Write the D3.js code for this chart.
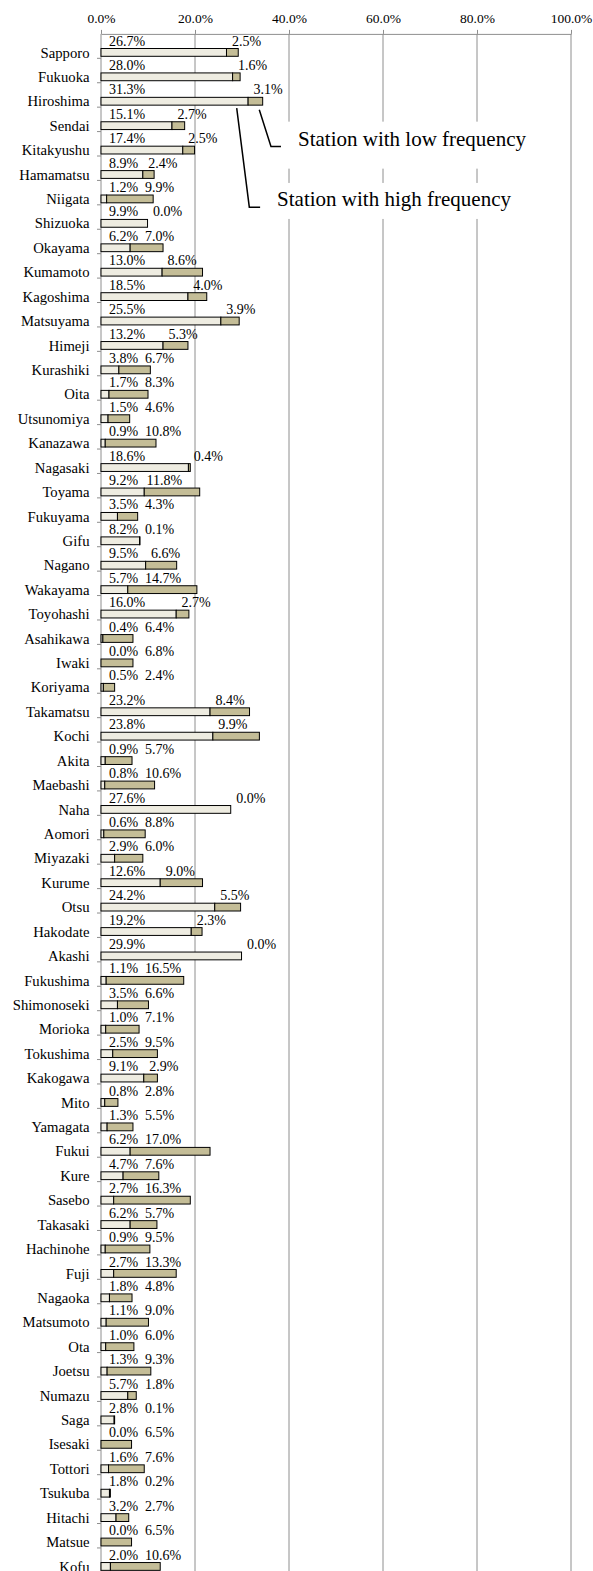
<!DOCTYPE html>
<html lang="en">
<head>
<meta charset="utf-8">
<script src="https://d3js.org/d3.v7.min.js"></script>
<style>
  body { margin: 0; background: #fff; }
</style>
</head>
<body>
<div id="chart"></div>
<script>
// stations, share of high / low frequency (%)
const cities = ["Sapporo","Fukuoka","Hiroshima","Sendai","Kitakyushu","Hamamatsu","Niigata","Shizuoka",
  "Okayama","Kumamoto","Kagoshima","Matsuyama","Himeji","Kurashiki","Oita","Utsunomiya","Kanazawa",
  "Nagasaki","Toyama","Fukuyama","Gifu","Nagano","Wakayama","Toyohashi","Asahikawa","Iwaki","Koriyama",
  "Takamatsu","Kochi","Akita","Maebashi","Naha","Aomori","Miyazaki","Kurume","Otsu","Hakodate","Akashi",
  "Fukushima","Shimonoseki","Morioka","Tokushima","Kakogawa","Mito","Yamagata","Fukui","Kure","Sasebo",
  "Takasaki","Hachinohe","Fuji","Nagaoka","Matsumoto","Ota","Joetsu","Numazu","Saga","Isesaki","Tottori",
  "Tsukuba","Hitachi","Matsue","Kofu"];
const highFreq = [26.7,28.0,31.3,15.1,17.4,8.9,1.2,9.9,6.2,13.0,18.5,25.5,13.2,3.8,1.7,1.5,0.9,18.6,9.2,3.5,
  8.2,9.5,5.7,16.0,0.4,0.0,0.5,23.2,23.8,0.9,0.8,27.6,0.6,2.9,12.6,24.2,19.2,29.9,1.1,3.5,1.0,2.5,9.1,0.8,
  1.3,6.2,4.7,2.7,6.2,0.9,2.7,1.8,1.1,1.0,1.3,5.7,2.8,0.0,1.6,1.8,3.2,0.0,2.0];
const lowFreq = [2.5,1.6,3.1,2.7,2.5,2.4,9.9,0.0,7.0,8.6,4.0,3.9,5.3,6.7,8.3,4.6,10.8,0.4,11.8,4.3,
  0.1,6.6,14.7,2.7,6.4,6.8,2.4,8.4,9.9,5.7,10.6,0.0,8.8,6.0,9.0,5.5,2.3,0.0,16.5,6.6,7.1,9.5,2.9,2.8,
  5.5,17.0,7.6,16.3,5.7,9.5,13.3,4.8,9.0,6.0,9.3,1.8,0.1,6.5,7.6,0.2,2.7,6.5,10.6];
const xTicks = [0,20,40,60,80,100];
const labelHigh = "Station with high frequency";
const labelLow = "Station with low frequency";

const W = 593, H = 1571;
const top0 = 33.9, step = 24.42;
const gridColor = "#8e8e8e";
const FONT = "'Liberation Serif', 'Times New Roman', Times, 'DejaVu Serif', serif";

const svg = d3.select("#chart").append("svg")
  .attr("width", W).attr("height", H)
  .attr("font-family", FONT);

const x = d3.scaleLinear().domain([0, 100]).range([101, 571]);
const y = d3.scaleBand().domain(cities)
  .range([top0, top0 + cities.length * step]).padding(0);

// gridlines
svg.append("g").selectAll("line")
  .data(xTicks.slice(1))
  .enter().append("line")
  .attr("x1", d => x(d)).attr("x2", d => x(d))
  .attr("y1", top0).attr("y2", H)
  .attr("stroke", gridColor).attr("stroke-width", 1);

// left axis line + category ticks
svg.append("line")
  .attr("x1", x(0)).attr("x2", x(0)).attr("y1", top0).attr("y2", H)
  .attr("stroke", gridColor);
svg.append("g").selectAll("line")
  .data(cities)
  .enter().append("line")
  .attr("x1", x(0) - 4).attr("x2", x(0))
  .attr("y1", d => y(d) + step).attr("y2", d => y(d) + step)
  .attr("stroke", gridColor);

// top axis
const xAxis = svg.append("g")
  .attr("transform", "translate(0," + top0 + ")")
  .call(d3.axisTop(x).tickValues(xTicks).tickFormat(d => d.toFixed(1) + "%")
    .tickSize(4).tickSizeOuter(0).tickPadding(7));
xAxis.attr("font-family", FONT).attr("font-size", null);
xAxis.selectAll("path, line").attr("stroke", gridColor);
xAxis.selectAll("text").style("font-size", "13.5px").style("font-family", FONT).attr("fill", "#000");

// annotation geometry, tied to the Hiroshima bar
const hi = cities.indexOf("Hiroshima");
const barBottom = y(cities[hi]) + 14.6 + 7.8;
const hx = x(highFreq[hi]);
const ex = x(highFreq[hi] + lowFreq[hi]);

// white boxes behind the annotation text
svg.append("rect")
  .attr("x", ex + 21).attr("y", barBottom + 16.5)
  .attr("width", 256).attr("height", 47).attr("fill", "#fff");
svg.append("rect")
  .attr("x", hx + 18).attr("y", barBottom + 77.8)
  .attr("width", 260).attr("height", 36).attr("fill", "#fff");

// bars
const rows = svg.append("g").selectAll("g")
  .data(cities)
  .enter().append("g");

rows.append("rect")
  .attr("x", x(0))
  .attr("y", d => y(d) + 14.6)
  .attr("width", (d, i) => x(highFreq[i]) - x(0))
  .attr("height", 7.8)
  .attr("fill", "#eeece1")
  .attr("stroke", "#000").attr("stroke-width", 1);

rows.append("rect")
  .attr("x", (d, i) => x(highFreq[i]))
  .attr("y", d => y(d) + 14.6)
  .attr("width", (d, i) => x(highFreq[i] + lowFreq[i]) - x(highFreq[i]))
  .attr("height", 7.8)
  .attr("fill", "#c4bd97")
  .attr("stroke", "#000").attr("stroke-width", 1);

// city names
rows.append("text")
  .attr("x", 89.5)
  .attr("y", d => y(d) + 18.5)
  .attr("dy", "0.35em")
  .attr("text-anchor", "end")
  .style("font-family", FONT)
  .style("font-size", "14.7px")
  .text(d => d);

// value labels
rows.append("text")
  .attr("x", 109)
  .attr("y", d => y(d) + 11.6)
  .style("font-family", FONT)
  .style("font-size", "14px")
  .text((d, i) => highFreq[i].toFixed(1) + "%");

rows.append("text")
  .attr("y", d => y(d) + 11.6)
  .attr("text-anchor", "middle")
  .style("font-family", FONT)
  .style("font-size", "14px")
  .text((d, i) => lowFreq[i].toFixed(1) + "%")
  .attr("x", function(d, i) {
    const segW = x(highFreq[i] + lowFreq[i]) - x(highFreq[i]);
    const w = this.getComputedTextLength();
    const cx = x(highFreq[i] + lowFreq[i]) + 20 - segW;
    return Math.max(cx, 145 + w / 2);
  });

// leader lines
const leader = d3.line();
svg.append("path")
  .attr("d", leader([[ex - 3.4, barBottom + 4.6], [ex + 8.3, barBottom + 41.3], [ex + 18.3, barBottom + 41.3]]))
  .attr("fill", "none").attr("stroke", "#000").attr("stroke-width", 1.5);
svg.append("path")
  .attr("d", leader([[hx - 11.4, barBottom + 3], [hx + 1.2, barBottom + 102], [hx + 12, barBottom + 102]]))
  .attr("fill", "none").attr("stroke", "#000").attr("stroke-width", 1.5);

svg.append("text")
  .attr("x", ex + 35.3).attr("y", barBottom + 41)
  .style("font-family", FONT)
  .style("font-size", "21px")
  .text(labelLow);
svg.append("text")
  .attr("x", hx + 29).attr("y", barBottom + 101)
  .style("font-family", FONT)
  .style("font-size", "21px")
  .text(labelHigh);
</script>
</body>
</html>
